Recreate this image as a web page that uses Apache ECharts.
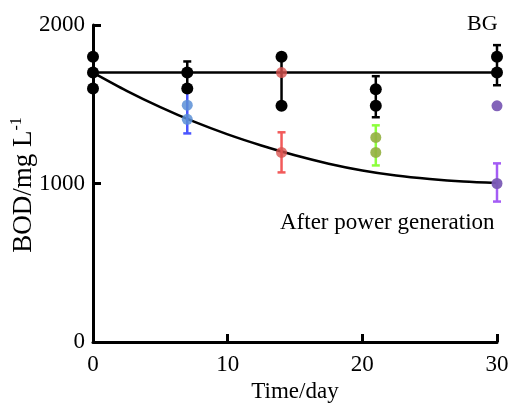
<!DOCTYPE html>
<html>
<head>
<meta charset="utf-8">
<script src="https://cdn.jsdelivr.net/npm/echarts@6/dist/echarts.min.js"></script>
<style>html,body{margin:0;padding:0;background:#fff}#c{width:508px;height:405px}</style>
</head>
<body>
<div id="c"></div>
<script>
// ---- data ----
const xTicks = [0, 10, 20, 30];
const yTicks = [0, 1000, 2000];
const bgPoints = [[0,1800],[0,1700],[0,1600],[7,1700],[7,1600],[14,1800],[14,1490],[21,1595],[21,1490],[30,1800],[30,1700]];
const bgErr = [[7,1600,1770],[14,1490,1800],[21,1418,1677],[30,1620,1873]];
const bgLine = [[0,1700],[30,1700]];
const fitCurve = [[0,1700],[2.5,1585],[5,1482],[7.5,1390],[10,1310],[12.5,1240],[15,1178],[17.5,1125],[20,1082],[22.5,1050],[25,1028],[27.5,1012],[30,1003]];
const day7Points = [[7,1494],[7,1405]];
const day7Err = [[7,1316,1580]];
const day14Points = [[14,1700],[14,1196]];
const day14Err = [[14,1070,1323]];
const day21Points = [[21,1291],[21,1196]];
const day21Err = [[21,1114,1367]];
const day30Points = [[30,1490],[30,1000]];
const day30Err = [[30,886,1127]];

const FONT = "'Liberation Serif','Times New Roman',serif";

function errSeries(data, color, z) {
  return {
    type: 'custom', z: z,
    data: data,
    renderItem: function (params, api) {
      const x = api.value(0);
      const lo = api.coord([x, api.value(1)]);
      const hi = api.coord([x, api.value(2)]);
      const w = 4;
      const st = { stroke: color, lineWidth: 2.5 };
      return { type: 'group', children: [
        { type: 'line', shape: { x1: lo[0], y1: lo[1], x2: hi[0], y2: hi[1] }, style: st },
        { type: 'line', shape: { x1: lo[0]-w, y1: lo[1], x2: lo[0]+w, y2: lo[1] }, style: st },
        { type: 'line', shape: { x1: hi[0]-w, y1: hi[1], x2: hi[0]+w, y2: hi[1] }, style: st }
      ]};
    },
    silent: true
  };
}
function ptSeries(data, color, size, z, opacity) {
  return {
    type: 'scatter', z: z, data: data, symbolSize: size,
    itemStyle: { color: color, opacity: opacity },
    silent: true
  };
}

const chart = echarts.init(document.getElementById('c'));
chart.setOption({
  animation: false,
  grid: { left: 93, right: 11, top: 25, bottom: 63, containLabel: false, outerBoundsMode: 'none' },
  xAxis: {
    type: 'value', min: 0, max: 30, interval: 10,
    name: 'Time/day', nameLocation: 'middle', nameGap: 38,
    nameTextStyle: { fontFamily: FONT, fontSize: 23, color: '#000' },
    axisLine: { show: true, lineStyle: { color: '#000', width: 3 } },
    axisTick: { show: true, inside: true, length: 8, lineStyle: { color: '#000', width: 3 } },
    axisLabel: { fontFamily: FONT, fontSize: 23, color: '#000', margin: 11,
      formatter: function (v) { return xTicks.indexOf(v) >= 0 ? String(v) : ''; } },
    splitLine: { show: false }
  },
  yAxis: {
    type: 'value', min: 0, max: 2000, interval: 1000,
    axisLine: { show: true, lineStyle: { color: '#000', width: 3 } },
    axisTick: { show: true, inside: true, length: 8, lineStyle: { color: '#000', width: 3 } },
    axisLabel: { fontFamily: FONT, fontSize: 23, color: '#000', margin: 8,
      formatter: function (v) { return yTicks.indexOf(v) >= 0 ? String(v) : ''; } },
    splitLine: { show: false }
  },
  graphic: [
    { type: 'text', x: 24, y: 185, rotation: Math.PI / 2, z: 100,
      style: { text: '{m|BOD/mg L}{s|-1}', align: 'center', verticalAlign: 'middle', fill: '#000',
        font: "27px " + FONT,
        rich: { m: { fontFamily: FONT, fontSize: 27, fill: '#000', color: '#000' },
                s: { fontFamily: FONT, fontSize: 16, fill: '#000', color: '#000', verticalAlign: 'top', padding: [0,0,14,0] } } } },
    { type: 'text', left: 467, top: 13, z: 100, style: { text: 'BG', font: "22px " + FONT, fill: '#000' } },
    { type: 'text', left: 280, top: 211, z: 100, style: { text: 'After power generation', font: "23px " + FONT, fill: '#000' } }
  ],
  series: [
    { type: 'line', data: bgLine, symbol: 'none', z: 2, lineStyle: { color: '#000', width: 2.5 }, silent: true },
    { type: 'line', data: fitCurve, smooth: 0.3, symbol: 'none', z: 2, lineStyle: { color: '#000', width: 2.5 }, silent: true },
    errSeries(bgErr, '#000', 3),
    errSeries(day7Err, '#4a55ff', 3),
    errSeries(day14Err, '#f25a5a', 3),
    errSeries(day21Err, '#8cff3c', 3),
    errSeries(day30Err, '#a45cf5', 3),
    ptSeries(bgPoints, '#000', 12, 5, 1),
    ptSeries(day7Points, '#5b8fd6', 11, 6, 0.85),
    ptSeries(day14Points, '#d9534f', 11, 6, 0.8),
    ptSeries(day21Points, '#93b040', 11, 6, 0.9),
    ptSeries(day30Points, '#7b5bb5', 11, 6, 0.95)
  ]
});
</script>
</body>
</html>
